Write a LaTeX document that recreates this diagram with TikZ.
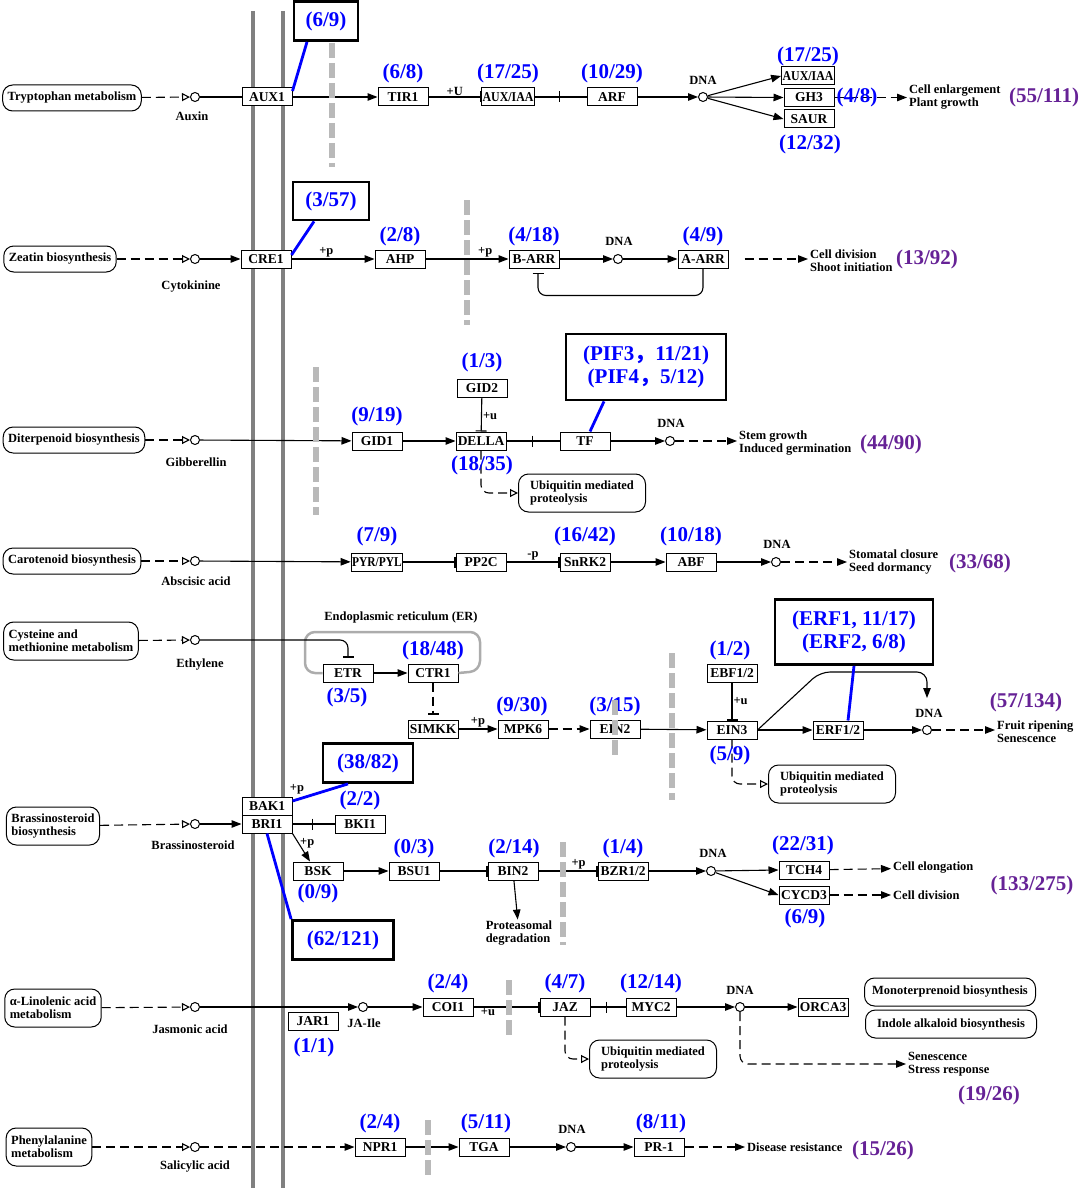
\documentclass[tikz,border=0pt]{standalone}
\usepackage{fontspec}
\usepackage{graphicx}
\setmainfont{Liberation Serif}
\newfontfamily\cjk{Noto Sans CJK SC}
\usetikzlibrary{arrows.meta}
\definecolor{cntblue}{RGB}{0,0,255}
\definecolor{totpurple}{RGB}{102,34,150}
\definecolor{membgray}{RGB}{128,128,128}
\definecolor{bargray}{RGB}{185,185,185}
\newcommand{\lblfont}{\bfseries\fontsize{12.5}{13}\selectfont}
\newcommand{\genefont}{\bfseries\fontsize{13.5}{14}\selectfont}
\newcommand{\cntfont}{\bfseries\fontsize{21}{23}\selectfont}
\tikzset{
  gene/.style={draw, fill=white, line width=1pt, minimum width=50pt, minimum height=18pt, inner xsep=1pt, inner ysep=0pt, font=\genefont},
  pway/.style={draw, fill=white, line width=1pt, rounded corners=10pt, minimum height=26pt, inner xsep=5pt, inner ysep=3pt, align=left, font=\lblfont},
  cpd/.style={circle, draw, fill=white, line width=1pt, minimum size=9pt, inner sep=0pt},
  lbl/.style={font=\lblfont, align=left, inner sep=1pt},
  txt/.style={font=\lblfont, align=left, anchor=west, inner sep=2pt},
  cnt/.style={font=\cntfont, text=cntblue, inner sep=0pt},
  tot/.style={font=\cntfont, text=totpurple, inner sep=0pt},
  hilite/.style={draw, line width=2.8pt, font=\cntfont, text=cntblue, align=center, inner sep=2pt},
  bline/.style={cntblue, line width=2.8pt},
  memb/.style={membgray, line width=4pt},
  gbar/.style={bargray, line width=6pt, dash pattern=on 15pt off 5pt},
  erwall/.style={gray!65, line width=2.5pt, rounded corners=10pt},
  link/.style={line width=1.1pt},
  act/.style={line width=1.1pt, -{Triangle[length=10pt,width=7.5pt]}},
  inh/.style={line width=1.1pt, -{Bar[width=11pt]}},
  dsh/.style={dash pattern=on 9pt off 5pt},
  toopen/.style={line width=1.1pt, -{Triangle[open,length=8pt,width=8pt]}},
}
\begin{document}
\begin{tikzpicture}[x=1pt, y=-1pt]
\useasboundingbox (0,0) rectangle (1084,1193);
\draw [memb] (253,11) -- (253,1188);
\draw [memb] (283,11) -- (283,1188);

% auxin
\node (trp) at (72,98) [pway] {Tryptophan metabolism};
\node (auxin) at (195,97) [cpd] {};
\node (auxinl) at (192,116) [lbl] {Auxin};
\node (aux1) at (267,97) [gene] {AUX1};
\node (tir1) at (403,97) [gene] {TIR1};
\node (auxiaa) at (508,97) [gene] {\scalebox{0.88}[1]{AUX/IAA}};
\node (arf) at (612,97) [gene] {ARF};
\node (dna1) at (703,97) [cpd] {};
\node (dna1l) at (703,80) [lbl] {DNA};
\node (iaa2) at (808,76) [gene] {\scalebox{0.88}[1]{AUX/IAA}};
\node (gh3) at (809,97.5) [gene] {GH3};
\node (saur) at (809,119) [gene] {SAUR};
\node (growth) at (907,97) [txt] {Cell enlargement\\Plant growth};
\coordinate (aux-bar) at (560,97);
\draw [dsh, toopen] (trp) -- (auxin);
\draw [link] (auxin) -- (aux1);
\draw [act] (aux1) -- (tir1);
\draw [inh] (tir1) -- node [above, lbl] {+U} (auxiaa);
\draw [inh] (auxiaa) -- (aux-bar);
\draw [link] (aux-bar) -- (arf);
\draw [act] (arf) -- (dna1);
\draw [act] (dna1) -- (iaa2.west);
\draw [act] (dna1) -- (gh3.west);
\draw [act] (dna1) -- (saur.west);
\draw [dsh, act] (gh3) -- (gh3 -| growth.west);
\node at (403,73) [cnt] {(6/8)};
\node at (508,73) [cnt] {(17/25)};
\node at (612,73) [cnt] {(10/29)};
\node at (808,56) [cnt] {(17/25)};
\node at (857,97) [cnt] {(4/8)};
\node at (810,144) [cnt] {(12/32)};
\node at (1044,97) [tot] {(55/111)};
\node (h69) at (326,21) [hilite, minimum width=64pt, minimum height=39pt] {(6/9)};
\draw [bline] ([xshift=-19pt]h69.south) -- ([yshift=6pt]aux1.east);

% cytokinine
\node (zea) at (60,259) [pway] {Zeatin biosynthesis};
\node (cyt) at (195,259) [cpd] {};
\node (cytl) at (191,287) [lbl] {Cytokinine};
\node (cre1) at (266,259) [gene] {CRE1};
\node (ahp) at (400,259) [gene] {AHP};
\node (barr) at (534,259) [gene] {B-ARR};
\node (dna2) at (618,259) [cpd] {};
\node (dna2l) at (619,241) [lbl] {DNA};
\node (aarr) at (703,259) [gene] {A-ARR};
\node (shoot) at (808,261) [txt] {Cell division\\Shoot initiation};
\draw [dsh, toopen] (zea) -- (cyt);
\draw [act] (cyt) -- (cre1);
\draw [act] (cre1) -- node [above, lbl, pos=0.42] {+p} (ahp);
\draw [act] (ahp) -- node [above, lbl, pos=0.72] {+p} (barr);
\draw [act] (barr) -- (dna2);
\draw [act] (dna2) -- (aarr);
\draw [inh, rounded corners=8pt, shorten >=4pt] (aarr.south) -- ++(0,27) -| ([xshift=4pt]barr.south);
\draw [dsh, act, shorten <=16pt] (aarr) -- (aarr -| shoot.west);
\node at (400,236) [cnt] {(2/8)};
\node at (534,236) [cnt] {(4/18)};
\node at (703,236) [cnt] {(4/9)};
\node at (927,259) [tot] {(13/92)};
\node (h357) at (331,201) [hilite, minimum width=76pt, minimum height=38pt] {(3/57)};
\draw [bline] ([xshift=-17pt]h357.south) -- ([yshift=4pt]cre1.east);

% gibberellin
\node (dit) at (74,440) [pway] {Diterpenoid biosynthesis};
\node (gib) at (195,440) [cpd] {};
\node (gibl) at (196,462) [lbl] {Gibberellin};
\node (gid1) at (377,441) [gene] {GID1};
\node (della) at (481,441) [gene] {DELLA};
\node (gid2) at (482,388) [gene] {GID2};
\node (tf) at (585,441) [gene] {TF};
\node (dna3) at (670,441) [cpd] {};
\node (dna3l) at (671,423) [lbl] {DNA};
\node (stem) at (737,443) [txt] {Stem growth\\Induced germination};
\node (ub3) at (582,493) [pway, minimum width=127pt, minimum height=38pt] {Ubiquitin mediated\\proteolysis};
\coordinate (della-bar) at (533,441);
\draw [dsh, toopen] (dit) -- (gib);
\draw [act] (gib) -- (gid1);
\draw [act] (gid1) -- (della);
\draw [inh] (gid2) -- node [right, lbl, pos=0.55] {+u} (della);
\draw [inh] (della) -- (della-bar);
\draw [link] (della-bar) -- (tf);
\draw [act] (tf) -- (dna3);
\draw [dsh, act] (dna3) -- (dna3 -| stem.west);
\draw [dsh, toopen, rounded corners=8pt] (della.south) |- (ub3.west);
\node at (482,362) [cnt] {(1/3)};
\node at (377,416) [cnt] {(9/19)};
\node at (482,465) [cnt] {(18/35)};
\node at (891,444) [tot] {(44/90)};
\node (hpif) at (646,367) [hilite, minimum width=160pt, minimum height=66pt] {(PIF3{\cjk ，}11/21)\\(PIF4{\cjk ，}5/12)};
\draw [bline] ([xshift=-42pt]hpif.south) -- ([xshift=5pt]tf.north);

% abscisic acid
\node (car) at (72,561) [pway] {Carotenoid biosynthesis};
\node (aba) at (195,561) [cpd] {};
\node (abal) at (196,581) [lbl] {Abscisic acid};
\node (pyr) at (377,562) [gene] {\scalebox{0.85}[1]{PYR/PYL}};
\node (pp2c) at (481,562) [gene] {PP2C};
\node (snrk2) at (585,562) [gene] {SnRK2};
\node (abf) at (691,562) [gene] {ABF};
\node (dna4) at (776,562) [cpd] {};
\node (dna4l) at (777,544) [lbl] {DNA};
\node (stom) at (847,562) [txt] {Stomatal closure\\Seed dormancy};
\draw [dsh, toopen] (car) -- (aba);
\draw [act] (aba) -- (pyr);
\draw [inh] (pyr) -- (pp2c);
\draw [inh] (pp2c) -- node [above, lbl] {-p} (snrk2);
\draw [act] (snrk2) -- (abf);
\draw [act] (abf) -- (dna4);
\draw [dsh, act] (dna4) -- (stom);
\node at (377,536) [cnt] {(7/9)};
\node at (585,536) [cnt] {(16/42)};
\node at (691,536) [cnt] {(10/18)};
\node at (980,563) [tot] {(33/68)};

% ethylene
\node (cys) at (71,641) [pway, minimum height=38pt] {Cysteine and\\methionine metabolism};
\node (eth) at (195,640) [cpd] {};
\node (ethl) at (200,665) [lbl] {Ethylene};
\node (erl) at (401,617) [lbl] {Endoplasmic reticulum (ER)};
\node (etr) at (348,673) [gene] {ETR};
\node (ctr1) at (433,673) [gene] {CTR1};
\node (simkk) at (433,729) [gene] {SIMKK};
\node (mpk6) at (523,729) [gene] {MPK6};
\node (ein2) at (615,729) [gene] {EIN2};
\node (ebf) at (732,673) [gene] {EBF1/2};
\node (ein3) at (732,730) [gene] {EIN3};
\node (erf) at (838,730) [gene] {ERF1/2};
\node (dna5) at (927,730) [cpd] {};
\node (dna5l) at (929,713) [lbl] {DNA};
\node (fruit) at (995,732) [txt] {Fruit ripening\\Senescence};
\node (ub5) at (832,784) [pway, minimum width=127pt, minimum height=38pt] {Ubiquitin mediated\\proteolysis};
\draw [erwall] (etr.west) -- (305,673) -- (305,632) -- (480,632) -- (480,671) -- (ctr1.east);
\draw [dsh, toopen] (cys) -- (eth);
\draw [inh, rounded corners=8pt, shorten >=6pt] (eth) -| (etr);
\draw [act] (etr) -- (ctr1);
\draw [dsh, inh, shorten >=5pt] (ctr1) -- (simkk);
\draw [act] (simkk) -- node [above, lbl] {+p} (mpk6);
\draw [dsh, act] (mpk6) -- (ein2);
\draw [act] (ein2) -- (ein3);
\draw [inh] (ebf) -- node [right, lbl, pos=0.5] {+u} (ein3);
\draw [act] (ein3) -- (erf);
\draw [act] (erf) -- (dna5);
\draw [act, rounded corners=10pt] (ein3.east) -- (820,672) -| ([yshift=27pt]dna5.north);
\draw [dsh, act] (dna5) -- (dna5 -| fruit.west);
\draw [dsh, toopen, rounded corners=8pt] (ein3.south) |- (ub5.west);
\node at (347,697) [cnt] {(3/5)};
\node at (433,650) [cnt] {(18/48)};
\node at (522,706) [cnt] {(9/30)};
\node at (615,706) [cnt] {(3/15)};
\node at (730,650) [cnt] {(1/2)};
\node at (730,755) [cnt] {(5/9)};
\node at (1026,702) [tot] {(57/134)};
\node (herf) at (854,632) [hilite, minimum width=158pt, minimum height=65pt] {(ERF1, 11/17)\\(ERF2, 6/8)};
\draw [bline] (herf.south) -- ([xshift=10pt]erf.north);

% brassinosteroid
\node (brs) at (53,826) [pway, minimum height=38pt] {Brassinosteroid\\biosynthesis};
\node (brc) at (195,824) [cpd] {};
\node (brcl) at (193,845) [lbl] {Brassinosteroid};
\node (bak1) at (267,806) [gene] {BAK1};
\node (bri1) at (267,824) [gene] {BRI1};
\node (bakp) at (297,789) [lbl] {+p};
\node (bki1) at (360,824) [gene] {BKI1};
\node (bsk) at (318,871) [gene] {BSK};
\node (bsu1) at (414,871) [gene] {BSU1};
\node (bin2) at (513,871) [gene] {BIN2};
\node (bzr) at (623,871) [gene] {BZR1/2};
\node (dna6) at (711,871) [cpd] {};
\node (dna6l) at (713,853) [lbl] {DNA};
\node (tch4) at (804,870) [gene] {TCH4};
\node (cycd3) at (804,895) [gene] {CYCD3};
\node (prot) at (519,933) [lbl] {Proteasomal\\degradation};
\node (elong) at (891,868) [txt] {Cell elongation};
\node (cdiv) at (891,895) [txt] {Cell division};
\coordinate (bri-bar) at (313,824);
\draw [dsh, toopen] (brs) -- (brc);
\draw [act] (brc) -- (bri1);
\draw [inh] (bri1) -- (bri-bar);
\draw [link] (bri-bar) -- (bki1);
\draw [act] (bri1.south east) -- node [right, lbl, pos=0.35] {+p} ([xshift=-8pt]bsk.north);
\draw [act] (bsk) -- (bsu1);
\draw [inh] (bsu1) -- (bin2);
\draw [inh] (bin2) -- node [above, lbl, pos=0.68] {+p} (bzr);
\draw [act] (bin2) -- (prot);
\draw [act] (bzr) -- (dna6);
\draw [act] (dna6) -- (tch4.west);
\draw [act] (dna6) -- (cycd3.west);
\draw [dsh, act] (tch4) -- (elong);
\draw [dsh, act] (cycd3) -- (cdiv);
\node at (360,800) [cnt] {(2/2)};
\node at (318,893) [cnt] {(0/9)};
\node at (414,848) [cnt] {(0/3)};
\node at (514,848) [cnt] {(2/14)};
\node at (623,848) [cnt] {(1/4)};
\node at (803,845) [cnt] {(22/31)};
\node at (805,918) [cnt] {(6/9)};
\node at (1032,885) [tot] {(133/275)};
\node (hbak) at (368,763) [hilite, minimum width=90pt, minimum height=39pt] {(38/82)};
\node (hbri) at (343,940) [hilite, minimum width=101pt, minimum height=39pt] {(62/121)};
\draw [bline] ([xshift=-20pt]hbak.south) -- ([yshift=5pt]bak1.east);
\draw [bline] (bri1.south) -- (hbri.north west);

% jasmonic acid
\node (lin) at (53,1008) [pway, minimum height=38pt] {α-Linolenic acid\\metabolism};
\node (jac) at (195,1007) [cpd] {};
\node (jacl) at (190,1029) [lbl] {Jasmonic acid};
\node (jaile) at (363,1007) [cpd] {};
\node (jailel) at (364,1023) [lbl] {JA-Ile};
\node (jar1) at (313,1021) [gene] {JAR1};
\node (coi1) at (448,1007) [gene] {COI1};
\node (jaz) at (565,1007) [gene] {JAZ};
\node (myc2) at (651,1007) [gene] {MYC2};
\node (dna7) at (740,1007) [cpd] {};
\node (dna7l) at (740,990) [lbl] {DNA};
\node (orca3) at (823,1007) [gene] {ORCA3};
\node (mono) at (950,992) [pway, minimum height=28pt, minimum width=171pt] {Monoterprenoid biosynthesis};
\node (indole) at (951,1024) [pway, minimum height=28pt, minimum width=171pt] {Indole alkaloid biosynthesis};
\node (sen) at (906,1064) [txt] {Senescence\\Stress response};
\node (ub7) at (653,1059) [pway, minimum width=127pt, minimum height=38pt] {Ubiquitin mediated\\proteolysis};
\coordinate (jaz-bar) at (607,1007);
\draw [dsh, toopen] (lin) -- (jac);
\draw [act] (jac) -- (jaile);
\draw [act] (jaile) -- (coi1);
\draw [inh] (coi1) -- node [below, lbl, pos=0.22] {+u} (jaz);
\draw [inh] (jaz) -- (jaz-bar);
\draw [link] (jaz-bar) -- (myc2);
\draw [act] (myc2) -- (dna7);
\draw [act] (dna7) -- (orca3);
\draw [dsh, act, rounded corners=8pt] (dna7) |- (sen.west);
\draw [dsh, toopen, rounded corners=8pt] (jaz.south) |- (ub7.west);
\node at (314,1047) [cnt] {(1/1)};
\node at (448,983) [cnt] {(2/4)};
\node at (565,983) [cnt] {(4/7)};
\node at (651,983) [cnt] {(12/14)};
\node at (989,1095) [tot] {(19/26)};

% salicylic acid
\node (phe) at (49,1147) [pway, minimum height=38pt] {Phenylalanine\\metabolism};
\node (sal) at (195,1147) [cpd] {};
\node (sall) at (195,1166) [lbl] {Salicylic acid};
\node (npr1) at (380,1147) [gene] {NPR1};
\node (tga) at (484,1147) [gene] {TGA};
\node (dna8) at (571,1147) [cpd] {};
\node (dna8l) at (572,1129) [lbl] {DNA};
\node (pr1) at (659,1147) [gene] {PR-1};
\node (dis) at (745,1147) [txt] {Disease resistance};
\draw [dsh, toopen] (phe) -- (sal);
\draw [dsh, act] (sal) -- (npr1);
\draw [act] (npr1) -- (tga);
\draw [act] (tga) -- (dna8);
\draw [act] (dna8) -- (pr1);
\draw [dsh, act] (pr1) -- (dis);
\node at (380,1123) [cnt] {(2/4)};
\node at (486,1123) [cnt] {(5/11)};
\node at (661,1123) [cnt] {(8/11)};
\node at (883,1150) [tot] {(15/26)};

% gray dashed bars
\draw [gbar] (332,43) -- (332,167);
\draw [gbar] (467,200) -- (467,325);
\draw [gbar] (316,367) -- (316,515);
\draw [gbar] (615,700) -- (615,757);
\draw [gbar] (672,653) -- (672,800);
\draw [gbar] (563,842) -- (563,945);
\draw [gbar] (509,980) -- (509,1038);
\draw [gbar] (428,1120) -- (428,1177);
\end{tikzpicture}
\end{document}
